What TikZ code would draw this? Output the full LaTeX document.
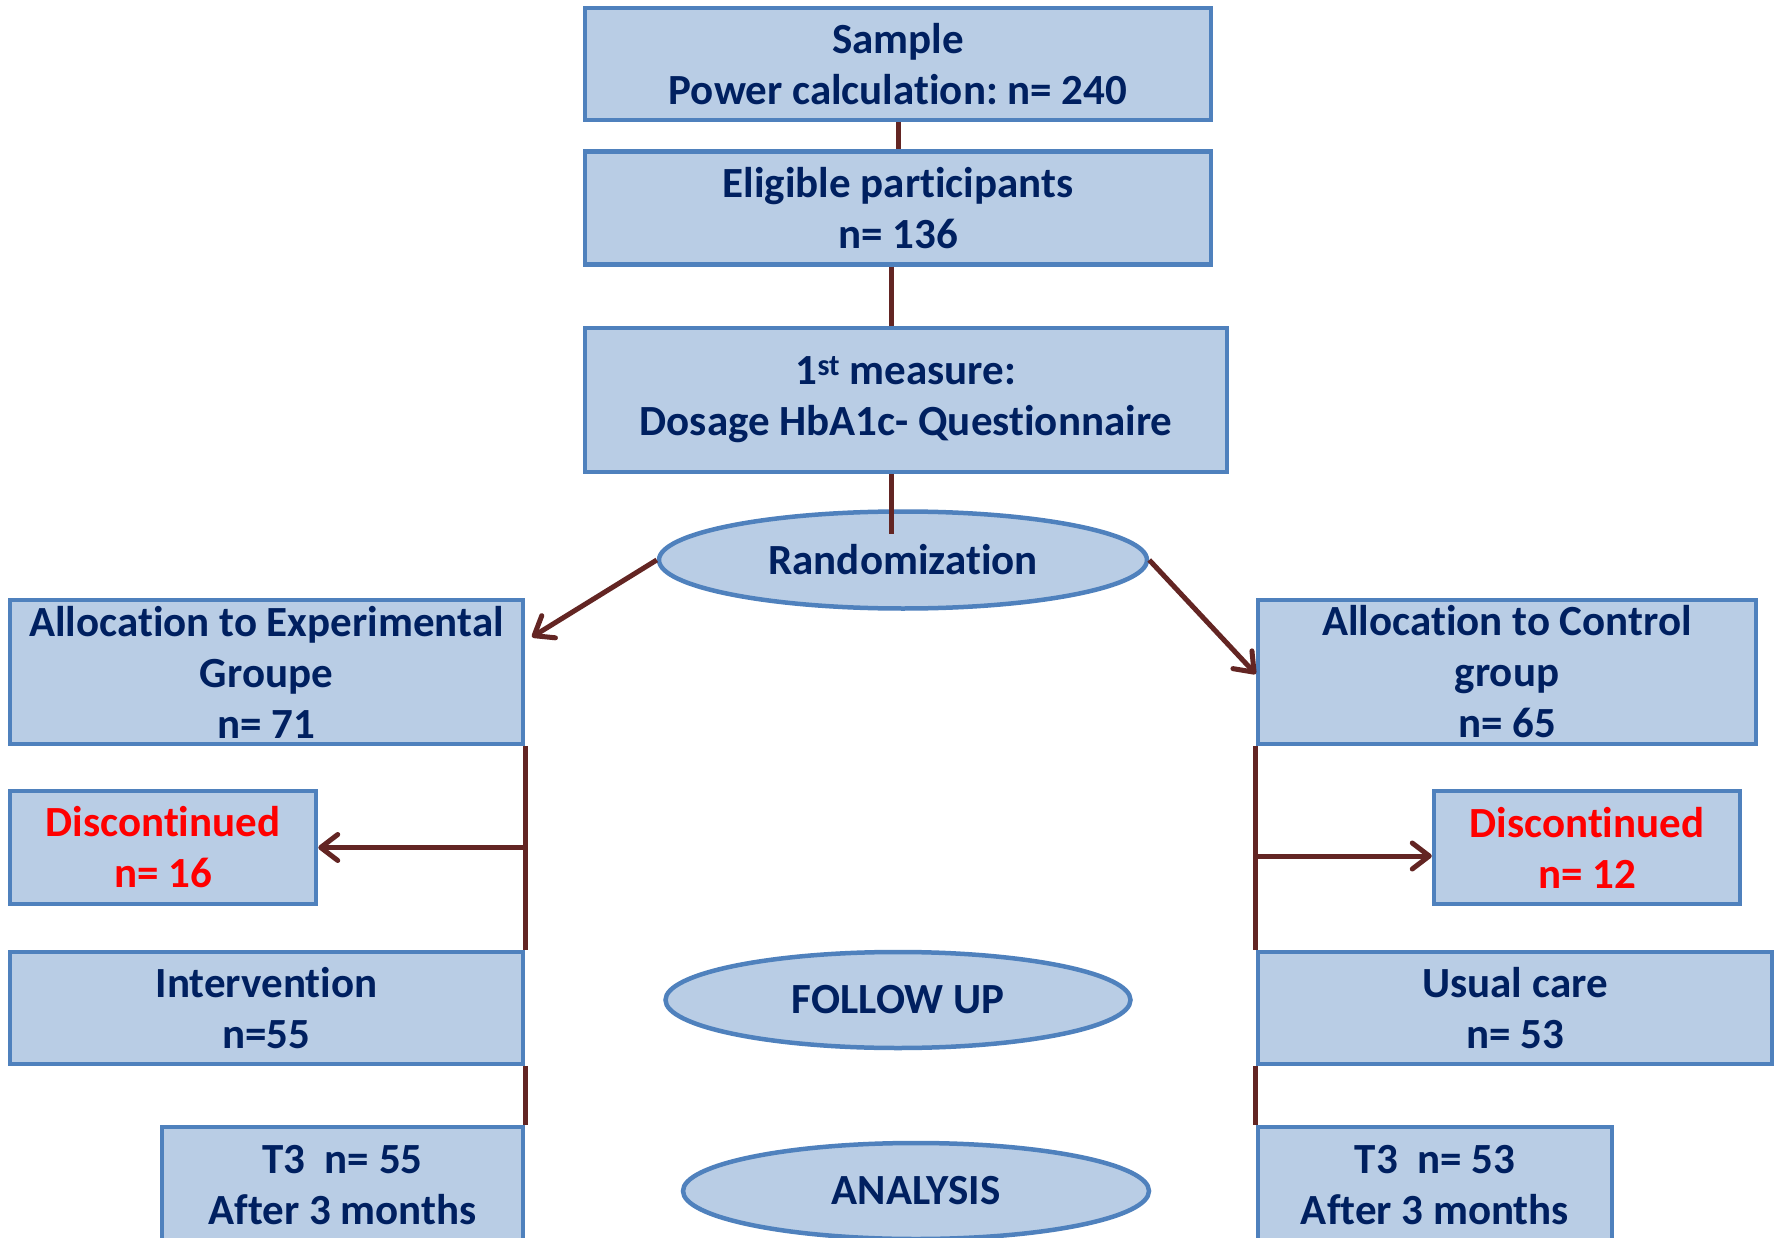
\documentclass[tikz,border=0pt]{standalone}
\usepackage{fontspec}
\setmainfont{Carlito}[RawFeature={-liga;-clig;-calt;-dlig}]
\usetikzlibrary{shapes.geometric,arrows.meta}
\definecolor{boxfill}{HTML}{B9CDE5}
\definecolor{boxline}{HTML}{4F81BD}
\definecolor{txt}{HTML}{002060}
\definecolor{connc}{HTML}{632523}
\definecolor{redtxt}{HTML}{FF0000}
\frenchspacing
\begin{document}
\begin{tikzpicture}[x=1pt,y=-1pt,
  box/.style={rectangle, draw=boxline, fill=boxfill, line width=4.5pt, text=txt,
    font=\fontsize{43}{51}\selectfont\bfseries, align=center, inner sep=0pt},
  oval/.style={box, ellipse},
  conn/.style={draw=connc, line width=5pt},
  arr/.style={conn, -{Straight Barb[length=17pt,width=26pt,line width=5pt,line cap=round,round]}}]
\useasboundingbox (0,0) rectangle (1775,1238);
\fill[white] (0,0) rectangle (1775,1238);
\clip (0,0) rectangle (1775,1238);

\node[box, minimum width=626pt, minimum height=112pt] (sample) at (898,64)
  {Sample\\Power calculation: n= 240};
\node[box, minimum width=626pt, minimum height=113pt] (elig) at (898,208)
  {Eligible participants\\n= 136};
\node[box, minimum width=642pt, minimum height=144pt] (meas) at (906,400)
  {1\textsuperscript{st} measure:\\Dosage HbA1c- Questionnaire};
\node[oval, minimum width=488pt, minimum height=97pt] (rand) at (903,560)
  {Randomization};
\node[box, minimum width=513pt, minimum height=144pt] (allocE) at (266.5,672)
  {Allocation to Experimental\\Groupe\\n= 71};
\node[box, minimum width=498pt, minimum height=144pt] (allocC) at (1507,672)
  {Allocation to Control\\group\\n= 65};
\node[box, text=redtxt, minimum width=306pt, minimum height=113pt] (discE) at (163,847.5)
  {Discontinued\\n= 16};
\node[box, text=redtxt, minimum width=306pt, minimum height=113pt] (discC) at (1587,847.5)
  {Discontinued\\n= 12};
\node[box, minimum width=513pt, minimum height=112pt] (interv) at (266.5,1008)
  {Intervention\\n=55};
\node[box, minimum width=514pt, minimum height=112pt] (usual) at (1515,1008)
  {Usual care\\n= 53};
\node[box, minimum width=361pt, minimum height=116pt] (t3E) at (342.5,1185)
  {T3~~n= 55\\After 3 months};
\node[box, minimum width=354pt, minimum height=116pt] (t3C) at (1435,1185)
  {T3~~n= 53\\After 3 months};
\node[oval, minimum width=465pt, minimum height=96pt] (follow) at (898,1000)
  {FOLLOW UP};
\node[oval, minimum width=466pt, minimum height=96pt] (analysis) at (916,1191)
  {ANALYSIS};

\coordinate (m1) at ([xshift=-7pt]elig.south);
\coordinate (rin) at (891,534);
\coordinate (aE) at (532,637);
\coordinate (cR) at (allocC.south west |- 0,856);

\draw[conn] (sample.south) -- (elig.north);
\draw[conn] (m1) -- (m1 |- meas.north);
\draw[conn] (m1 |- meas.south) -- (rin);
\draw[arr] (rand.west) -- (aE);
\draw[arr] (rand.east) -- ([yshift=-2pt]allocC.west);

\draw[conn] (allocE.south east) -- (interv.north east);
\draw[conn] (interv.south east) -- (t3E.north east);
\draw[arr] (allocE.south east |- discE.east) -- (discE.east);

\draw[conn] (allocC.south west) -- (usual.north west);
\draw[conn] (usual.south west) -- (t3C.north west);
\draw[arr] (cR) -- (cR -| discC.west);
\end{tikzpicture}
\end{document}
